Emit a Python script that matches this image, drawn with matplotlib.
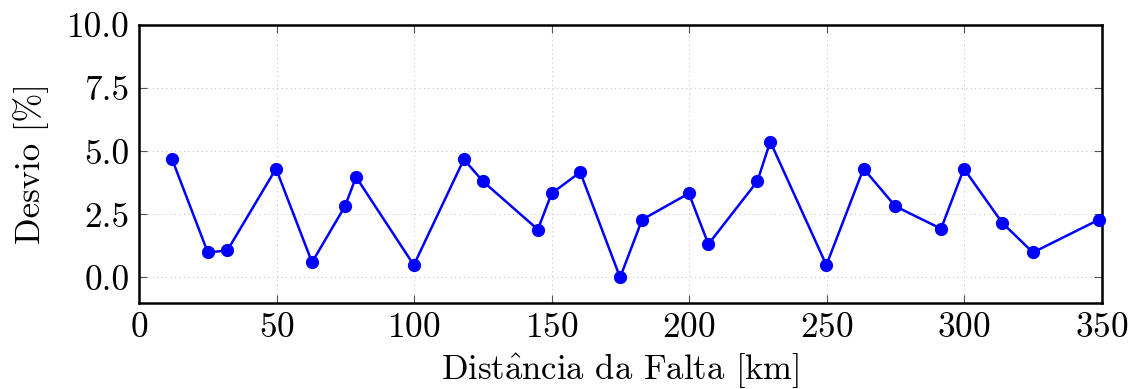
import matplotlib
matplotlib.use("Agg")
import matplotlib.pyplot as plt

plt.rcParams['font.family'] = 'serif'
plt.rcParams['font.serif'] = ['cmr10']
plt.rcParams['mathtext.fontset'] = 'cm'
plt.rcParams['axes.formatter.use_mathtext'] = True

# Fault distance [km] and deviation [%]
distancia = [12.0, 25.0, 32.1, 49.8, 62.9, 74.9, 78.9, 99.9, 118.1, 125.0,
             145.0, 150.0, 160.4, 174.9, 182.9, 199.9, 207.0, 224.8, 229.5,
             249.9, 263.4, 275.0, 291.6, 299.9, 313.8, 325.0, 349.0]
desvio = [4.69, 0.99, 1.07, 4.31, 0.60, 2.83, 3.98, 0.49, 4.68, 3.81,
          1.90, 3.33, 4.17, 0.00, 2.29, 3.33, 1.32, 3.81, 5.38,
          0.49, 4.31, 2.82, 1.93, 4.31, 2.17, 0.99, 2.29]

xticks = [0, 50, 100, 150, 200, 250, 300, 350]
yticks = [0.0, 2.5, 5.0, 7.5, 10.0]

fig = plt.figure(figsize=(11.36, 3.89), dpi=100)
ax = fig.add_axes([0.1224, 0.2218, 0.9698 - 0.1224, 0.9357 - 0.2218])

ax.plot(distancia, desvio, color='#0000ff', lw=1.8, marker='o', ms=8.5,
        clip_on=False, zorder=3)

ax.set_xlim(0, 350)
ax.set_ylim(-1, 10)
ax.set_xticks(xticks)
ax.set_yticks(yticks)
ax.set_yticklabels(["%.1f" % v for v in yticks])
ax.grid(True, color='#c8c8c8', ls=(0, (1, 3)), lw=0.8)
ax.tick_params(direction='in', top=True, right=True, length=6, width=0.8,
               color='#555555', labelsize=25.5, pad=7)
for s in ax.spines.values():
    s.set_linewidth(1.8)

ax.set_xlabel(r"Dist$\mathrm{\hat{a}}$ncia da Falta [km]", fontsize=25, labelpad=5)
ax.set_ylabel("Desvio [%]", fontsize=25, labelpad=13)

fig.savefig("out.png", dpi=100)
